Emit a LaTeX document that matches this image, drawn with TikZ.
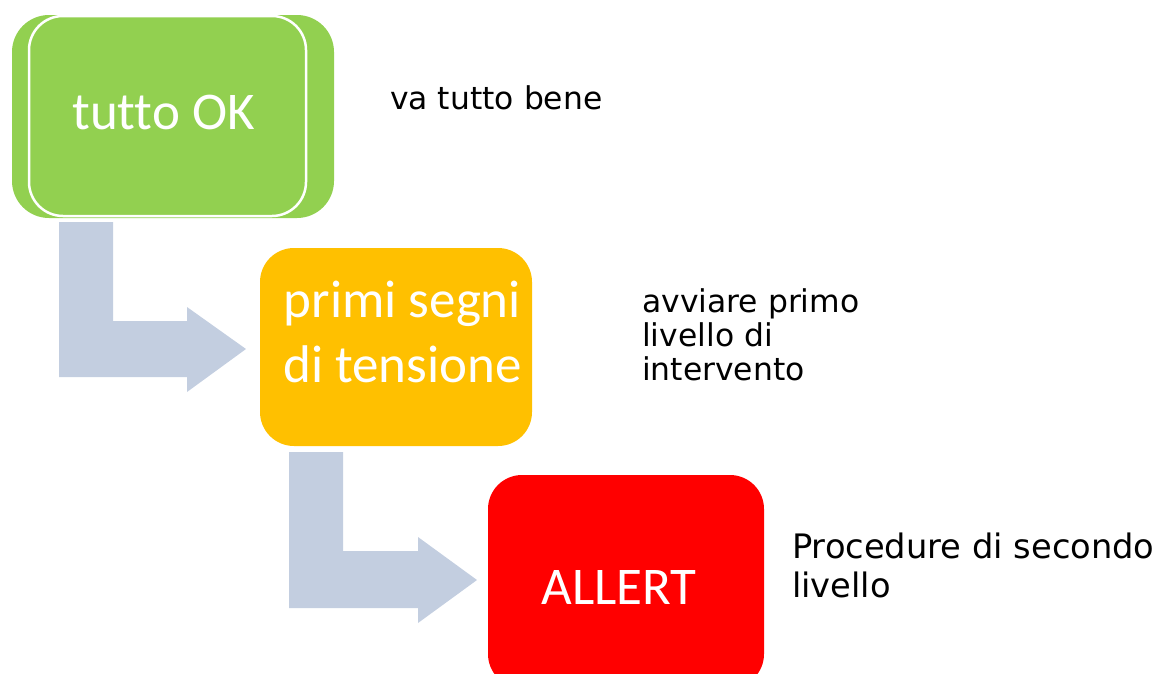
\documentclass[tikz,border=0pt]{standalone}
\usepackage{fontspec}
\newfontfamily\boxfont[Ligatures={NoCommon}]{Carlito}
\newfontfamily\notefont{DejaVu Sans}
\definecolor{okgreen}{HTML}{92D050}
\definecolor{warnorange}{HTML}{FFC000}
\definecolor{alertred}{HTML}{FF0000}
\definecolor{arrowgrey}{RGB}{195,206,224}
\tikzset{
  boxshape/.style={rounded corners=34pt, inner sep=0pt, outer sep=0pt},
  boxtext/.style={text=white, inner sep=0pt, font=\boxfont\fontsize{53}{64}\selectfont},
  notetext/.style={text=black, inner sep=0pt, align=left, font=\notefont\fontsize{31.4}{34.5}\selectfont},
  bentarrow/.style={fill=arrowgrey},
}
\begin{document}
\begin{tikzpicture}[x=1pt,y=-1pt]
\useasboundingbox (0,0) rectangle (1164,673);
\clip (0,0) rectangle (1164,673);
% boxes
\node[boxshape, fill=okgreen, rounded corners=37pt, minimum width=322pt, minimum height=203pt] (okback) at (173,116.5) {};
\node[boxshape, fill=okgreen, draw=white, line width=2.5pt, minimum width=277pt, minimum height=200pt] (ok) at (167.5,116) {};
\node[boxshape, fill=warnorange, minimum width=272pt, minimum height=198pt] (tens) at (396,347) {};
\node[boxshape, fill=alertred, minimum width=276pt, minimum height=213pt] (alert) at (626,581.5) {};
% bent arrows
\fill[bentarrow] (59,222) -- (113,222) -- (113,321) -- (187,321) -- (187,307) -- (246,349) -- (187,392) -- (187,377) -- (59,377) -- cycle;
\fill[bentarrow] (289,452) -- (343,452) -- (343,551) -- (418,551) -- (418,537) -- (477,580) -- (418,623) -- (418,608) -- (289,608) -- cycle;
% box texts
\node[boxtext, anchor=base] (oktext) at (163.5,129) {tutto OK};
\node[boxtext, anchor=base] (tens1) at (402.5,317) {primi segni};
\node[boxtext, anchor=base] (tens2) at (402.5,382) {di tensione};
\node[boxtext, anchor=base] (alerttext) at (619,604) {ALLERT};
% notes
\node[notetext, anchor=base west] (note1) at (390,109) {va tutto bene};
\node[notetext, anchor=base west] (note2a) at (642,312) {avviare primo};
\node[notetext, anchor=base west] (note2b) at (642,346) {livello di};
\node[notetext, anchor=base west] (note2c) at (642,380) {intervento};
\node[notetext, anchor=base west, font=\notefont\fontsize{33.7}{40}\selectfont] (note3a) at (792,558) {Procedure di secondo};
\node[notetext, anchor=base west, font=\notefont\fontsize{33.7}{40}\selectfont] (note3b) at (792,597) {livello};
\end{tikzpicture}
\end{document}
